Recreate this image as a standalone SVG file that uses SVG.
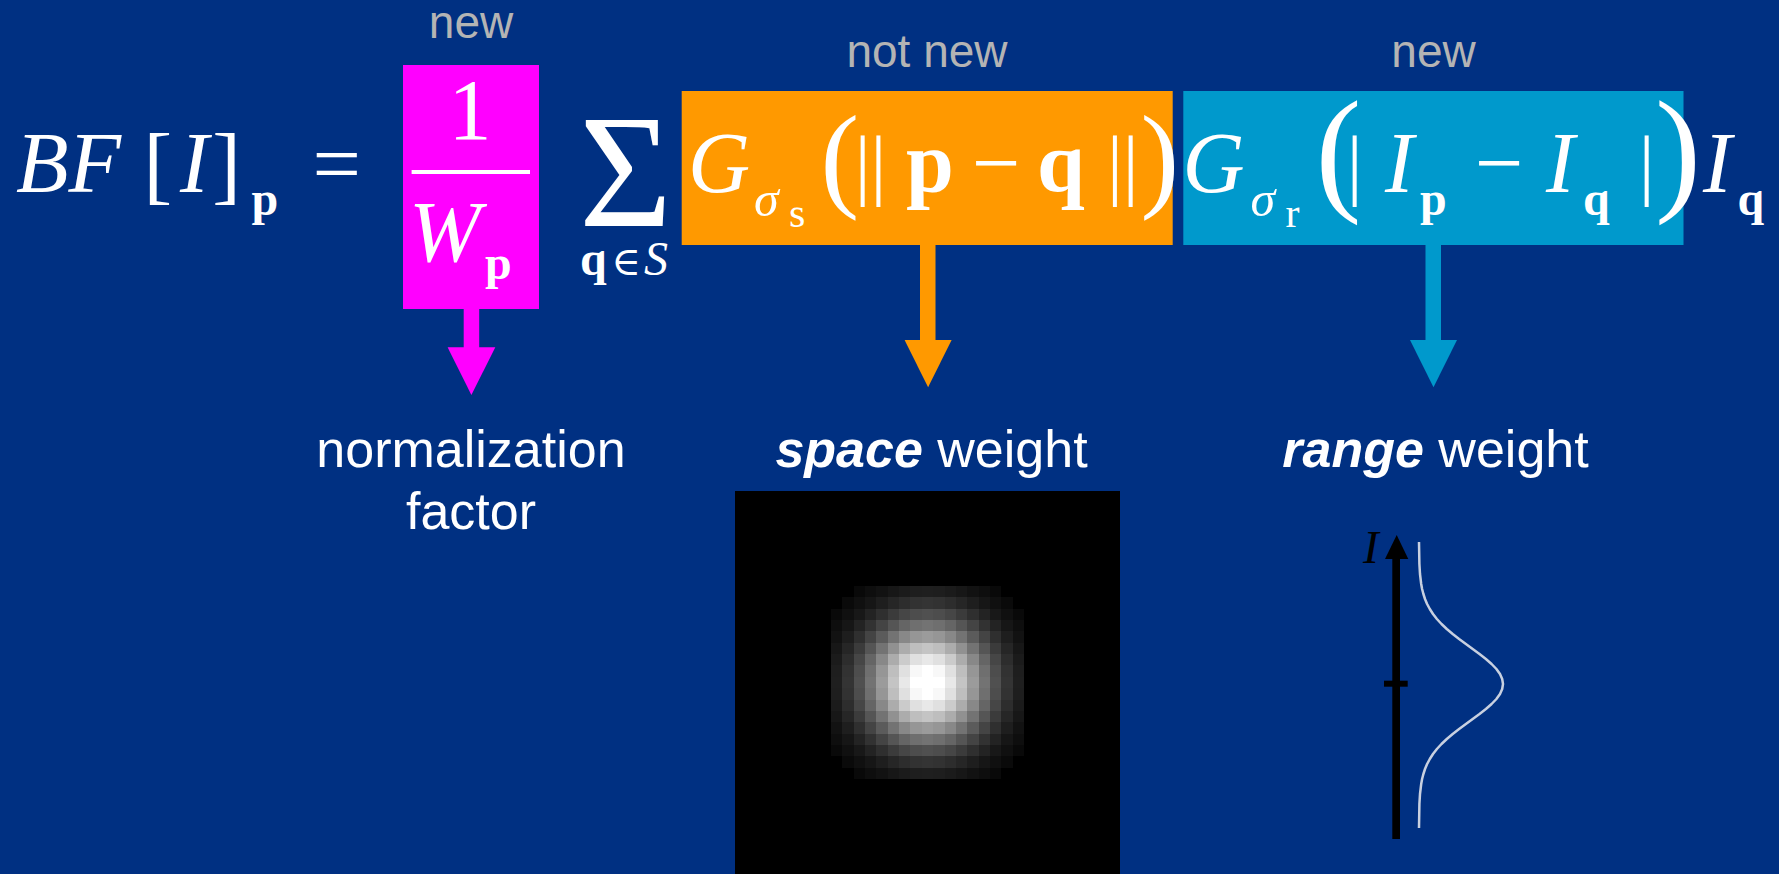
<svg xmlns="http://www.w3.org/2000/svg" xmlns:xlink="http://www.w3.org/1999/xlink" width="1779" height="874" viewBox="0 0 1779 874">
<style>
.s{font-family:'Liberation Serif','Times New Roman',serif;fill:#fff}
.i{font-style:italic}
.b{font-weight:bold}
.m{font-size:86px}
.sb{font-size:48px}
.sg{font-size:50px}
.ss{font-size:42px}
.bar{font-size:79px}
.sans{font-family:'Liberation Sans',Arial,sans-serif}
.gray{fill:#b4b4b4;font-size:46px}
.lab{fill:#fff;font-size:52px}
</style>
<defs>
<g id="gq">
<rect x="-0.5" y="-0.5" width="1" height="1" fill="#fff"/><rect x="0.5" y="-0.5" width="1" height="1" fill="#fff"/><rect x="1.5" y="-0.5" width="1" height="1" fill="#e8e8e8"/><rect x="2.5" y="-0.5" width="1" height="1" fill="#c4c4c4"/><rect x="3.5" y="-0.5" width="1" height="1" fill="#9b9b9b"/><rect x="4.5" y="-0.5" width="1" height="1" fill="#737373"/><rect x="5.5" y="-0.5" width="1" height="1" fill="#505050"/><rect x="6.5" y="-0.5" width="1" height="1" fill="#343434"/><rect x="7.5" y="-0.5" width="1" height="1" fill="#1f1f1f"/>
<rect x="-0.5" y="0.5" width="1" height="1" fill="#fff"/><rect x="0.5" y="0.5" width="1" height="1" fill="#f8f8f8"/><rect x="1.5" y="0.5" width="1" height="1" fill="#e0e0e0"/><rect x="2.5" y="0.5" width="1" height="1" fill="#bebebe"/><rect x="3.5" y="0.5" width="1" height="1" fill="#969696"/><rect x="4.5" y="0.5" width="1" height="1" fill="#6f6f6f"/><rect x="5.5" y="0.5" width="1" height="1" fill="#4d4d4d"/><rect x="6.5" y="0.5" width="1" height="1" fill="#323232"/><rect x="7.5" y="0.5" width="1" height="1" fill="#1e1e1e"/>
<rect x="-0.5" y="1.5" width="1" height="1" fill="#e8e8e8"/><rect x="0.5" y="1.5" width="1" height="1" fill="#e0e0e0"/><rect x="1.5" y="1.5" width="1" height="1" fill="#cbcbcb"/><rect x="2.5" y="1.5" width="1" height="1" fill="#acacac"/><rect x="3.5" y="1.5" width="1" height="1" fill="#888"/><rect x="4.5" y="1.5" width="1" height="1" fill="#656565"/><rect x="5.5" y="1.5" width="1" height="1" fill="#464646"/><rect x="6.5" y="1.5" width="1" height="1" fill="#2d2d2d"/><rect x="7.5" y="1.5" width="1" height="1" fill="#1b1b1b"/>
<rect x="-0.5" y="2.5" width="1" height="1" fill="#c4c4c4"/><rect x="0.5" y="2.5" width="1" height="1" fill="#bebebe"/><rect x="1.5" y="2.5" width="1" height="1" fill="#acacac"/><rect x="2.5" y="2.5" width="1" height="1" fill="#919191"/><rect x="3.5" y="2.5" width="1" height="1" fill="#737373"/><rect x="4.5" y="2.5" width="1" height="1" fill="#555"/><rect x="5.5" y="2.5" width="1" height="1" fill="#3b3b3b"/><rect x="6.5" y="2.5" width="1" height="1" fill="#262626"/><rect x="7.5" y="2.5" width="1" height="1" fill="#171717"/>
<rect x="-0.5" y="3.5" width="1" height="1" fill="#9b9b9b"/><rect x="0.5" y="3.5" width="1" height="1" fill="#969696"/><rect x="1.5" y="3.5" width="1" height="1" fill="#888"/><rect x="2.5" y="3.5" width="1" height="1" fill="#737373"/><rect x="3.5" y="3.5" width="1" height="1" fill="#5b5b5b"/><rect x="4.5" y="3.5" width="1" height="1" fill="#444"/><rect x="5.5" y="3.5" width="1" height="1" fill="#2f2f2f"/><rect x="6.5" y="3.5" width="1" height="1" fill="#1e1e1e"/><rect x="7.5" y="3.5" width="1" height="1" fill="#121212"/>
<rect x="-0.5" y="4.5" width="1" height="1" fill="#737373"/><rect x="0.5" y="4.5" width="1" height="1" fill="#6f6f6f"/><rect x="1.5" y="4.5" width="1" height="1" fill="#656565"/><rect x="2.5" y="4.5" width="1" height="1" fill="#555"/><rect x="3.5" y="4.5" width="1" height="1" fill="#444"/><rect x="4.5" y="4.5" width="1" height="1" fill="#323232"/><rect x="5.5" y="4.5" width="1" height="1" fill="#232323"/><rect x="6.5" y="4.5" width="1" height="1" fill="#161616"/><rect x="7.5" y="4.5" width="1" height="1" fill="#0e0e0e"/>
<rect x="-0.5" y="5.5" width="1" height="1" fill="#505050"/><rect x="0.5" y="5.5" width="1" height="1" fill="#4d4d4d"/><rect x="1.5" y="5.5" width="1" height="1" fill="#464646"/><rect x="2.5" y="5.5" width="1" height="1" fill="#3b3b3b"/><rect x="3.5" y="5.5" width="1" height="1" fill="#2f2f2f"/><rect x="4.5" y="5.5" width="1" height="1" fill="#232323"/><rect x="5.5" y="5.5" width="1" height="1" fill="#181818"/><rect x="6.5" y="5.5" width="1" height="1" fill="#101010"/><rect x="7.5" y="5.5" width="1" height="1" fill="#090909"/>
<rect x="-0.5" y="6.5" width="1" height="1" fill="#343434"/><rect x="0.5" y="6.5" width="1" height="1" fill="#323232"/><rect x="1.5" y="6.5" width="1" height="1" fill="#2d2d2d"/><rect x="2.5" y="6.5" width="1" height="1" fill="#262626"/><rect x="3.5" y="6.5" width="1" height="1" fill="#1e1e1e"/><rect x="4.5" y="6.5" width="1" height="1" fill="#161616"/><rect x="5.5" y="6.5" width="1" height="1" fill="#101010"/><rect x="6.5" y="6.5" width="1" height="1" fill="#0a0a0a"/>
<rect x="-0.5" y="7.5" width="1" height="1" fill="#1f1f1f"/><rect x="0.5" y="7.5" width="1" height="1" fill="#1e1e1e"/><rect x="1.5" y="7.5" width="1" height="1" fill="#1b1b1b"/><rect x="2.5" y="7.5" width="1" height="1" fill="#171717"/><rect x="3.5" y="7.5" width="1" height="1" fill="#121212"/><rect x="4.5" y="7.5" width="1" height="1" fill="#0e0e0e"/><rect x="5.5" y="7.5" width="1" height="1" fill="#090909"/>
</g>
</defs>
<rect width="1779" height="874" fill="#003082"/>

<g id="lhs">
<text class="s i m" x="16" y="192">BF</text>
<text class="s m" x="143.4" y="193">[</text>
<text class="s i m" x="180" y="192">I</text>
<text class="s m" x="212.2" y="193">]</text>
<text class="s b sb" x="251.5" y="215">p</text>
<text class="s m" x="312.4" y="193">=</text>
</g>

<g id="norm-box">
<rect x="403" y="65" width="136" height="244" fill="#ff00ff"/>
<text class="s m" x="470" y="139" text-anchor="middle">1</text>
<rect x="411.6" y="170" width="118.4" height="4" fill="#fff"/>
<text class="s i m" x="409" y="261">W</text>
<text class="s b sb" x="485" y="279">p</text>
</g>

<g id="sum">
<text class="s" font-size="160" x="579" y="226">Σ</text>
<text class="s b sb" x="580" y="275">q</text>
<text font-family="'DejaVu Serif',serif" fill="#fff" font-size="40" x="611.5" y="275">∈</text>
<text class="s i sb" x="644" y="275">S</text>
</g>

<g id="space-box">
<rect x="681.7" y="91" width="491" height="154" fill="#ff9900"/>
<text class="s i m" x="688" y="192">G</text>
<text class="s i sg" x="754" y="215.5">σ</text>
<text class="s ss" x="789" y="226.7">s</text>
<text class="s" font-size="116" x="820.5" y="196">(</text>
<text class="s bar" x="854.7" y="190">||</text>
<text class="s b m" x="906" y="191">p</text>
<text class="s m" x="972" y="192">−</text>
<text class="s b m" x="1037" y="191">q</text>
<text class="s bar" x="1107" y="190">||</text>
<text class="s" font-size="116" x="1140.6" y="196">)</text>
</g>

<g id="range-box">
<rect x="1183.3" y="91" width="500.2" height="154" fill="#0099cc"/>
<text class="s i m" x="1182.5" y="192">G</text>
<text class="s i sg" x="1250.5" y="215.5">σ</text>
<text class="s ss" x="1285.5" y="226.7">r</text>
<text class="s" font-size="138" x="1315.4" y="195.6">(</text>
<text class="s bar" x="1346.7" y="190">|</text>
<text class="s i m" x="1385" y="192">I</text>
<text class="s b sb" x="1420" y="214.6">p</text>
<text class="s m" x="1475" y="192">−</text>
<text class="s i m" x="1546" y="192">I</text>
<text class="s b sb" x="1583" y="214.6">q</text>
<text class="s bar" x="1638.7" y="190">|</text>
<text class="s" font-size="138" x="1655" y="195.6">)</text>
</g>

<g id="iq">
<text class="s i m" x="1703" y="192">I</text>
<text class="s b sb" x="1737.5" y="214.6">q</text>
</g>

<g id="tags" class="sans gray" text-anchor="middle">
<text x="471" y="38">new</text>
<text x="927" y="66.7">not new</text>
<text x="1433.5" y="66.7">new</text>
</g>

<g id="connectors">
<rect x="463.7" y="308" width="15.5" height="40" fill="#ff00ff"/>
<polygon points="447.6,347.3 495.3,347.3 471.4,395" fill="#ff00ff"/>
<rect x="920" y="244" width="15.5" height="97" fill="#ff9900"/>
<polygon points="904.6,340 951.6,340 928.1,387.3" fill="#ff9900"/>
<rect x="1425.5" y="244" width="15.5" height="97" fill="#0099cc"/>
<polygon points="1410,340 1457,340 1433.5,387.3" fill="#0099cc"/>
</g>

<g id="labels" class="sans lab" text-anchor="middle">
<text x="471" y="467">normalization</text>
<text x="471" y="529">factor</text>
<text x="931.5" y="467"><tspan font-weight="bold" font-style="italic">space</tspan> weight</text>
<text x="1435.5" y="467"><tspan font-weight="bold" font-style="italic">range</tspan> weight</text>
</g>

<g id="space-kernel">
<rect x="735" y="491" width="385" height="383" fill="#000"/>
<g transform="translate(927.5,682.5) scale(11.35)" shape-rendering="crispEdges">
<use xlink:href="#gq"/>
<use xlink:href="#gq" transform="scale(-1,1)"/>
<use xlink:href="#gq" transform="scale(1,-1)"/>
<use xlink:href="#gq" transform="scale(-1,-1)"/>
</g>
</g>

<g id="range-kernel">
<rect x="1392.3" y="557" width="7.7" height="282" fill="#000"/>
<polygon points="1385,559 1408.3,559 1396.7,535" fill="#000"/>
<rect x="1384" y="680.7" width="23.7" height="6" fill="#000"/>
<text class="i" font-family="'Liberation Serif',serif" font-size="47" fill="#000" x="1363" y="563">I</text>
<polyline fill="none" stroke="#c8d0e0" stroke-width="2.5" stroke-linejoin="round" points="1419,542 1419.4,564 1420,574 1421.2,584 1422.1,589 1423.4,594 1425,599 1427.1,604 1429.8,609 1433,614 1436.9,619 1441.5,624 1446.8,629 1452.7,634 1459.1,639 1465.9,644 1472.7,649 1479.5,654 1485.9,659 1491.6,664 1496.4,669 1500,674 1502.2,679 1503,684 1502.2,689 1500,694 1496.4,699 1491.6,704 1485.9,709 1479.5,714 1472.7,719 1465.9,724 1459.1,729 1452.7,734 1446.8,739 1441.5,744 1436.9,749 1433,754 1429.8,759 1427.1,764 1425,769 1423.4,774 1422.1,779 1421.2,784 1420,794 1419.4,804 1419,828"/>
</g>
</svg>
